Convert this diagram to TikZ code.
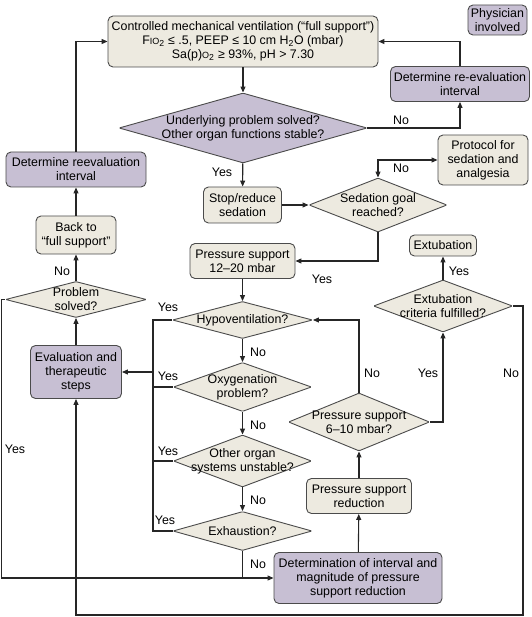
\documentclass[tikz,border=0pt]{standalone}
\usepackage{fontspec}
\setmainfont{Liberation Sans}
\usepackage{xcolor}
\usepackage{tikz}
\usetikzlibrary{shapes.geometric, arrows.meta, positioning, calc}

\definecolor{cream}{RGB}{237,234,224}
\definecolor{lilac}{RGB}{199,191,211}
\definecolor{edge}{RGB}{75,75,75}

\tikzset{
    every node/.style={font=\fontsize{12.4}{14}\selectfont, align=center},
    box/.style={rectangle, rounded corners=5pt, draw=edge, line width=0.9pt, fill=cream, inner sep=1pt},
    doc/.style={box, fill=lilac},
    dia/.style={diamond, rounded corners=1pt, draw=edge, line width=0.9pt, fill=cream, inner sep=0pt},
    link/.style={line width=1.1pt, draw=black!85},
    tag/.style={inner sep=0pt}
}

\begin{document}
\begin{tikzpicture}[x=1pt, y=-1pt, >={Triangle[length=6pt, width=5pt]}]
    \useasboundingbox (0,0) rectangle (531,617);

    \node[box, minimum width=270, minimum height=51] (cmv) at (243,41.5)
        {Controlled mechanical ventilation (“full support”)\\
         F{\fontsize{9}{9}\selectfont IO}\textsubscript{2} ≤ .5, PEEP ≤ 10 cm H\textsubscript{2}O (mbar)\\
         Sa(p){\fontsize{9}{9}\selectfont O}\textsubscript{2} ≥ 93\%, pH > 7.30};
    \node[doc, minimum width=59, minimum height=30] (phys) at (497.5,20) {Physician\\involved};
    \node[doc, minimum width=139, minimum height=35] (reevr) at (460,84) {Determine re-evaluation\\interval};
    \node[dia, fill=lilac, minimum width=248, minimum height=70,
        label={center:Underlying problem solved?\\Other organ functions stable?}] (under) at (243,128) {};
    \node[doc, minimum width=140, minimum height=35] (reevl) at (76,169.5) {Determine reevaluation\\interval};
    \node[box, minimum width=90, minimum height=50] (prot) at (483,160) {Protocol for\\sedation and\\analgesia};
    \node[box, minimum width=78, minimum height=36] (stop) at (242.5,205) {Stop/reduce\\sedation};
    \node[dia, minimum width=138, minimum height=54, label={center:Sedation goal\\reached?}] (sed) at (378,205) {};
    \node[box, minimum width=80, minimum height=38] (back) at (76,235) {Back to\\“full support”};
    \node[dia, minimum width=141, minimum height=36, label={center:Problem\\solved?}] (solved) at (76,299.5) {};
    \node[box, minimum width=105, minimum height=35] (ps12) at (242.5,261) {Pressure support\\12–20 mbar};
    \node[box, minimum width=67, minimum height=21] (extub) at (443,245.5) {Extubation};
    \node[dia, minimum width=139, minimum height=52, label={center:Extubation\\criteria fulfilled?}] (crit) at (443,306) {};
    \node[dia, minimum width=140, minimum height=37, label={center:Hypoventilation?}] (hypo) at (242.5,320) {};
    \node[doc, minimum width=91, minimum height=53] (eval) at (76,372) {Evaluation and\\therapeutic\\steps};
    \node[dia, minimum width=138, minimum height=49, label={center:Oxygenation\\problem?}] (oxy) at (242.5,387) {};
    \node[dia, minimum width=138, minimum height=52, label={center:Other organ\\systems unstable?}] (organ) at (242.5,461) {};
    \node[dia, minimum width=139, minimum height=39, label={center:Exhaustion?}] (exh) at (242.5,531) {};
    \node[doc, minimum width=168, minimum height=51] (det) at (358,578)
        {Determination of interval and\\magnitude of pressure\\support reduction};
    \node[box, minimum width=105, minimum height=35] (psr) at (359,496) {Pressure support\\reduction};
    \node[dia, minimum width=141, minimum height=58, label={center:Pressure support\\6–10 mbar?}] (ps6) at (359,422) {};

    \coordinate (ybus) at (153,372);
    \coordinate (lframe) at (1.5,578);
    \coordinate (rframe) at (523,615);

    \draw[link, ->] (reevl.north) |- (cmv.west);
    \draw[link, ->] (reevr.north) |- (cmv.east);
    \draw[link, ->] (cmv) -- (under);
    \draw[link, ->] (under.east) -| (reevr.south);
    \draw[link, ->] (under) -- (stop);
    \draw[link, ->] (stop) -- (sed);
    \draw[link, <->] (prot.west) -| (sed.north);
    \draw[link, ->] (sed.south) |- (ps12.east);
    \draw[link, ->] (ps12) -- (hypo);
    \draw[link, ->] (hypo) -- (oxy);
    \draw[link, ->] (oxy) -- (organ);
    \draw[link, ->] (organ) -- (exh);
    \draw[link] (hypo.west) -| (ybus);
    \draw[link] (exh.west) -| (ybus);
    \draw[link] (oxy.west) -- (oxy.west -| ybus);
    \draw[link] (organ.west) -- (organ.west -| ybus);
    \draw[link, ->] (ybus) -- (eval.east);
    \draw[link, ->] (eval) -- (solved);
    \draw[link, ->] (solved) -- (back);
    \draw[link, ->] (back) -- (reevl);
    \draw[link, ->] (solved.west) -| (lframe) -- (det.west);
    \draw[link] (exh.south) -- (exh.south |- det.west);
    \draw[link, ->] (det) -- (psr);
    \draw[link, ->] (psr) -- (ps6);
    \draw[link, ->] (ps6.north) |- (hypo.east);
    \draw[link, ->] (ps6.east) -| (crit.south);
    \draw[link, ->] (crit) -- (extub);
    \draw[link, ->] (crit.east) -| (rframe) -| (eval.south);

    \foreach \p/\t [count=\i] in {(401,120)/No, (222,172)/Yes, (401,168.6)/No, (62,271)/No,
        (322,279)/Yes, (459,271)/Yes, (168,307)/Yes, (258,352.5)/No, (168,376)/Yes,
        (258,425)/No, (168,451)/Yes, (258,500)/No, (165,520)/Yes, (258,564)/No,
        (15,449)/Yes, (372,373)/No, (428,373)/Yes, (511,373)/No}
        \node[tag] (lab\i) at \p {\t};
\end{tikzpicture}
\end{document}
